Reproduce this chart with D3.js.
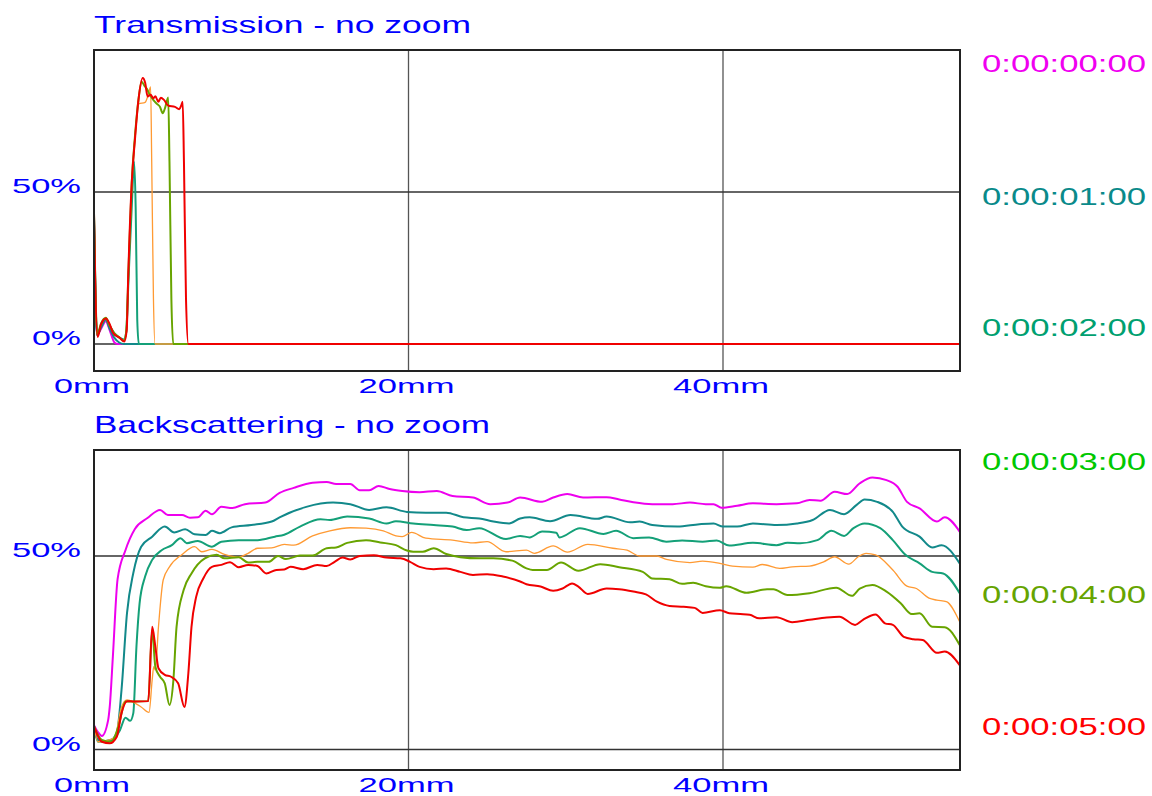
<!DOCTYPE html>
<html>
<head>
<meta charset="utf-8">
<script src="https://cdn.jsdelivr.net/npm/d3@7"></script>
<style>
  html, body { margin: 0; padding: 0; background: #fff; }
  svg { display: block; }
  text { font-family: "Liberation Sans", Arial, sans-serif; }
</style>
</head>
<body>
<svg id="chart" width="1152" height="796"></svg>
<script>
// ---- data -------------------------------------------------------------
const seriesNames = ["0:00:00:00", "0:00:01:00", "0:00:02:00", "0:00:03:00", "0:00:04:00", "0:00:05:00"];
const lineColors   = ["#ee00ee", "#12898a", "#14a078", "#ff9a33", "#68a400", "#f00000"];
const legendColors = ["#f000f0", "#0a8a8a", "#00a070", "#00c800", "#66a400", "#ff0000"];

const xTicks = [0, 20, 40];
const xTickLabels = ["0mm", "20mm", "40mm"];
const yTicks = [0, 50];
const yTickLabels = ["0%", "50%"];
const xMax = 55.05;

// Transmission (%), position in mm
const trMagenta = [[0,40],[0.1,12],[0.2,3],[0.45,5],[0.75,7.5],[1.0,4.5],[1.3,0.5],[1.5,0],[55.05,0]];
const trTeal = [[0,41],[0.1,12],[0.2,3],[0.45,5.5],[0.75,8],[1.0,5],[1.3,2],[1.6,0.5],[1.9,0],[55.05,0]];
const trGreenTeal = [[0,42],[0.1,14],[0.2,3],[0.45,6],[0.75,8.3],[1.0,6],[1.3,3.5],[1.6,2.2],[1.9,1.5],[2.05,4],[2.2,22],[2.4,45],[2.55,60],[2.65,45],[2.75,8],[2.85,0],[55.05,0]];
const trOrange = [[0,43],[0.1,15],[0.2,3],[0.45,6.5],[0.75,8.5],[1.0,6],[1.3,3.5],[1.6,2.2],[1.9,1.2],[2.05,4],[2.2,25],[2.4,52],[2.6,68],[2.85,79],[3.25,79.5],[3.45,82],[3.6,84.6],[3.67,60],[3.78,15],[3.88,0],[55.05,0]];
const trOlive = [[0,43],[0.1,16],[0.2,3],[0.45,6.8],[0.75,8.6],[1.0,6],[1.3,3.5],[1.6,2.2],[1.9,1],[2.05,4],[2.2,25],[2.4,53],[2.6,68],[2.82,80],[3.03,86.3],[3.2,85],[3.35,84],[3.55,82],[3.77,80.3],[4.0,79],[4.2,78],[4.37,75.9],[4.51,77.5],[4.72,81.1],[4.8,60],[4.92,15],[5.04,0],[55.05,0]];
const trRed = [[0,43],[0.08,20],[0.23,2.3],[0.45,6.5],[0.76,8.4],[1.0,6.5],[1.23,3.5],[1.65,2],[1.93,0.8],[2.08,4.6],[2.18,23],[2.4,53],[2.6,67],[2.82,80],[3.1,87.5],[3.25,86],[3.41,81.4],[3.6,82],[3.77,80.8],[3.9,81.5],[4.09,79.7],[4.25,81],[4.45,80.3],[4.72,78.4],[5.15,78],[5.42,77.2],[5.55,78.5],[5.64,79.7],[5.72,60],[5.85,15],[6.0,0],[55.05,0]];

// Backscattering (%), position in mm
const bsMagenta = [[0,6.3],[0.25,4.5],[0.5,3.5],[0.9,7.6],[1.0,11],[1.2,24],[1.5,44],[2.0,51.5],[2.6,57],[3.4,59.8],[4.2,61.9],[4.7,60.6],[5.6,60.6],[6.1,59.9],[6.6,60],[7.1,61.7],[7.5,60.8],[8.1,62.7],[8.8,62.4],[9.6,63.4],[10.9,63.8],[11.8,66.3],[12.7,67.6],[13.9,68.9],[14.8,69.1],[15.4,68.6],[16.3,68.6],[16.9,67],[17.5,67],[18.1,68.1],[18.8,67.3],[19.6,66.8],[20.7,66.5],[21.8,66.8],[22.8,65.5],[24.1,65.1],[25.2,63.4],[26.3,63.8],[27.1,65.1],[28.5,64],[29.2,65.1],[30.1,66],[31.1,65.1],[32.6,65.2],[33.4,64.6],[34.3,63.9],[35.5,63.4],[36.8,63.4],[37.9,63.8],[38.9,63.4],[39.4,63.4],[39.9,62.5],[40.9,63],[41.9,63.6],[43.4,63.4],[44.7,63.6],[45.5,64.5],[46.2,64.3],[47.1,66.6],[47.9,66],[48.7,68.8],[49.5,70.3],[50.4,69.6],[51.1,67.9],[51.7,64],[52.5,62.3],[53.6,58.9],[54.1,60],[55.05,56.3]];
const bsTeal = [[0,6.1],[0.25,2.5],[0.9,2],[1.45,4.3],[1.75,15.4],[2.1,35.3],[2.5,45.6],[3.0,52.4],[3.7,55],[4.5,57.6],[5.1,56.1],[5.8,56.9],[6.4,55.6],[7.1,55.4],[7.5,56.5],[8.0,55.9],[8.75,57.4],[10.0,58],[11.3,58.9],[11.8,60],[13.5,62.7],[15.2,63.8],[16.3,63.4],[17.5,61.9],[18.6,62.6],[19.9,61.4],[21.1,61.2],[22.4,61.2],[23.5,60],[24.5,59.7],[25.4,58.9],[26.4,58.4],[27.1,59.7],[27.7,60],[29.0,59],[30.3,60.6],[32.0,59.6],[32.6,60.2],[34.1,58.7],[34.7,58.9],[35.5,58],[37.1,57.6],[38.5,58.2],[39.4,58.4],[40.0,57.6],[40.9,57.6],[41.9,58.4],[43.4,58],[44.7,58.4],[45.7,59.3],[46.8,61.9],[47.7,60.8],[48.5,63.2],[49.0,64.6],[49.8,64],[50.8,61.4],[51.4,57.6],[52.5,55],[53.3,52.2],[53.9,52.8],[55.05,48.1]];
const bsGreenTeal = [[0,6],[0.25,2],[1.1,2.5],[1.65,5],[2.0,8.2],[2.3,7.4],[2.5,9.4],[2.7,26.6],[2.9,37.8],[3.25,44.7],[3.7,49],[4.3,51.5],[4.95,52.8],[5.5,54.6],[5.9,53.3],[6.6,53.9],[7.5,52.4],[8.1,53.7],[9.2,54.1],[10.4,54.1],[11.5,55],[12.1,55.5],[13.1,57.6],[14.4,59.5],[15.0,59.3],[16.1,60.2],[17.5,59.7],[18.6,58.4],[19.2,59],[20.3,58.4],[21.6,58],[22.8,57.6],[23.7,56.7],[24.5,57.2],[26.2,54.4],[27.1,55.2],[27.7,54.8],[28.5,56.3],[29.4,56],[29.6,54.8],[30.9,57.2],[32.4,55.7],[33.2,56.5],[34.3,54.6],[35.3,54.8],[36.4,53.7],[37.4,54],[38.7,53.7],[39.6,54],[40.4,52.7],[41.9,53.4],[43.4,52.8],[44.1,53.4],[44.9,53.3],[46.0,54.1],[46.9,56.5],[47.7,55.2],[48.3,57.2],[49.0,58.4],[50.0,57.2],[50.8,54.1],[51.6,50.3],[52.5,48.1],[53.3,45.9],[54.0,45.5],[55.05,40.4]];
const bsOrange = [[0,6],[0.25,2],[1.3,3],[1.75,11],[2.1,12.8],[2.6,12],[3.0,11],[3.5,9.6],[3.7,18],[3.8,21.4],[3.9,20.5],[4.1,31.7],[4.4,43.8],[4.8,47.2],[5.6,50.4],[6.4,52.4],[6.85,51.1],[7.5,51.7],[8.3,50.4],[9.2,49.7],[9.8,50.7],[10.4,52],[11.3,52.1],[12.1,53],[12.7,52.8],[13.9,55.2],[15.0,56.5],[16.3,57.3],[17.3,57.2],[18.4,56.5],[19.2,55.2],[19.6,55],[20.2,56.1],[21.1,54.6],[22.8,54.1],[24.1,53.4],[25.0,53.7],[26.2,51.1],[27.5,51.5],[28.0,50.7],[29.2,52.6],[30.1,51],[31.4,53],[33.0,52],[33.9,51.5],[34.7,50],[35.8,50],[36.4,49.1],[37.9,48.3],[38.7,48.7],[39.8,48.1],[40.6,47.4],[41.9,47.1],[42.5,47.8],[43.6,46.8],[44.4,47.2],[45.5,47.4],[46.4,48.5],[47.1,49.8],[48.0,47.9],[48.6,49.8],[49.1,50.7],[49.7,50.3],[50.8,46.4],[51.7,42.2],[52.3,41.6],[53.1,39.1],[53.6,38.6],[54.2,38.2],[55.05,33]];
const bsOlive = [[0,6],[0.5,2.5],[1.1,2],[1.55,5.9],[2.0,12.4],[2.6,12.4],[3.45,12.5],[3.7,30.9],[3.9,21.4],[4.2,18.8],[4.5,17.1],[4.8,11.5],[5.05,18],[5.25,31.7],[5.7,41.2],[6.2,45.5],[7.05,49.4],[7.8,50.3],[8.3,49.4],[9.2,49.7],[9.8,48.3],[10.4,48.5],[11.1,48.5],[11.7,50],[12.2,49.2],[13.1,50.1],[13.9,50.1],[14.8,52],[15.4,52.2],[16.1,53.4],[17.3,54.1],[18.2,53.5],[19.2,52.8],[19.9,51.4],[20.3,51.1],[20.9,51.1],[21.6,52],[22.4,50.5],[23.3,49.7],[24.5,49.4],[25.4,49.4],[26.6,48.8],[27.5,46.8],[27.9,46.4],[28.8,46.4],[29.7,48.3],[30.8,46.2],[32.2,47.9],[33.4,47.1],[34.9,45.9],[35.5,44.2],[36.6,44],[37.4,42.8],[38.1,43.1],[38.9,42.2],[39.8,41.8],[40.2,42.2],[41.5,40.5],[42.8,41.4],[43.2,41.4],[44.1,39.9],[45.5,40.4],[47.2,41.8],[48.2,39.7],[48.7,41.6],[49.5,42.5],[50.4,40.8],[51.3,37.8],[52.0,35],[52.5,35.2],[53.3,31.7],[54.1,31.6],[55.05,27]];
const bsRed = [[0,6],[0.5,2],[1.0,1.6],[1.45,3.3],[1.75,9.4],[2.1,12.5],[2.6,12.4],[3.45,12.5],[3.7,31.7],[3.9,26.6],[4.1,21],[4.5,19.3],[4.9,18.8],[5.35,17.1],[5.75,11],[6.0,19.7],[6.2,31.7],[6.5,39.5],[6.95,44.2],[7.5,47.2],[8.1,47.7],[8.65,48.4],[9.2,47.1],[9.8,47.7],[10.4,47.4],[10.95,45.5],[11.6,46.4],[12.1,46.5],[12.5,47.2],[13.3,46.6],[14.2,47.7],[14.8,47.4],[15.3,48.5],[15.8,49.6],[16.3,49.1],[16.9,50],[17.8,50.2],[18.6,49.6],[19.5,49.4],[20.1,48.5],[20.7,47.2],[21.6,46.6],[22.4,46.8],[23.3,45.9],[24.1,45.1],[25.0,45.3],[26.0,44.7],[27.1,43.4],[27.5,42.7],[28.4,42.1],[29.2,41],[29.8,41.6],[30.4,42.9],[30.8,42.1],[31.4,40.2],[32.6,41.6],[33.4,41.4],[34.3,40.8],[35.1,40.1],[35.8,38.2],[36.6,37.1],[37.5,36.9],[38.2,36.6],[38.7,35.3],[39.8,36],[40.4,35.2],[41.1,35],[41.7,34.8],[42.3,33.9],[43.4,34.2],[44.4,32.9],[45.5,33.5],[46.6,34.1],[47.4,34.3],[48.4,32.2],[48.9,33.5],[49.7,34.9],[50.3,32.6],[50.8,32.2],[51.5,29.1],[52.1,28.5],[52.7,28.3],[53.6,25],[54.1,25.3],[55.05,21.8]];

const transmission = [trMagenta, trTeal, trGreenTeal, trOrange, trOlive, trRed];
const backscattering = [bsMagenta, bsTeal, bsGreenTeal, bsOrange, bsOlive, bsRed];

// ---- drawing ----------------------------------------------------------
const svg = d3.select("#chart");
const FONT = '"Liberation Sans", Arial, sans-serif';
const blue = "#0000ff";

function panel(opts) {
  const { id, title, titleLen, titleY, top, bottom, y0px, y50px, labelBase, data } = opts;
  const left = 94, right = 960;
  const x = d3.scaleLinear().domain([0, 40]).range([left, 723]);
  const y = d3.scaleLinear().domain([0, 50]).range([y0px, y50px]);
  const g = svg.append("g");

  g.append("text")
    .attr("x", left).attr("y", titleY)
    .attr("fill", blue).attr("font-size", 24).attr("font-family", FONT)
    .attr("textLength", titleLen).attr("lengthAdjust", "spacingAndGlyphs")
    .text(title);

  g.append("clipPath").attr("id", id + "-clip")
    .append("rect").attr("x", left).attr("y", top)
    .attr("width", right - left).attr("height", bottom - top);

  // grid
  g.selectAll(".vgrid").data(xTicks.filter(d => d > 0)).join("line")
    .attr("x1", d => x(d)).attr("x2", d => x(d))
    .attr("y1", top).attr("y2", bottom)
    .attr("stroke", "#555").attr("stroke-width", 1.3);
  g.selectAll(".hgrid").data(yTicks).join("line")
    .attr("x1", left).attr("x2", right)
    .attr("y1", d => y(d)).attr("y2", d => y(d))
    .attr("stroke", "#333").attr("stroke-width", 1.3);

  // curves
  const line = d3.line().x(d => x(d[0])).y(d => y(d[1])).curve(d3.curveMonotoneX);
  const lines = g.append("g").attr("clip-path", `url(#${id}-clip)`);
  data.forEach((s, i) => {
    lines.append("path").datum(s)
      .attr("d", line)
      .attr("fill", "none")
      .attr("stroke", lineColors[i])
      .attr("stroke-width", i === 3 ? 1.3 : 2)
      .attr("stroke-linejoin", "round");
  });

  // frame
  g.append("rect").attr("x", left).attr("y", top)
    .attr("width", right - left).attr("height", bottom - top)
    .attr("fill", "none").attr("stroke", "#222").attr("stroke-width", 2);

  // y tick labels
  const yLen = { "0%": 49, "50%": 69 };
  g.selectAll(".ylab").data(yTicks).join("text")
    .attr("x", 81).attr("y", d => y(d) + 1)
    .attr("text-anchor", "end")
    .attr("fill", blue).attr("font-size", 21).attr("font-family", FONT)
    .attr("textLength", (d, i) => yLen[yTickLabels[i]]).attr("lengthAdjust", "spacingAndGlyphs")
    .text((d, i) => yTickLabels[i]);

  // x tick labels
  const xLen = { "0mm": 76, "20mm": 96, "40mm": 96 };
  g.selectAll(".xlab").data(xTicks).join("text")
    .attr("x", d => x(d) - 2).attr("y", labelBase)
    .attr("text-anchor", "middle")
    .attr("fill", blue).attr("font-size", 21).attr("font-family", FONT)
    .attr("textLength", (d, i) => xLen[xTickLabels[i]]).attr("lengthAdjust", "spacingAndGlyphs")
    .text((d, i) => xTickLabels[i]);
}

panel({ id: "tr", title: "Transmission - no zoom", titleLen: 377, titleY: 33,
        top: 50, bottom: 371, y0px: 344, y50px: 192, labelBase: 393, data: transmission });
panel({ id: "bs", title: "Backscattering - no zoom", titleLen: 396, titleY: 433,
        top: 450, bottom: 770, y0px: 749.5, y50px: 556, labelBase: 792, data: backscattering });

// legend of time stamps
const legendY = [72, 205, 336, 470, 603, 735];
svg.append("g").selectAll("text").data(seriesNames).join("text")
  .attr("x", 982).attr("y", (d, i) => legendY[i])
  .attr("fill", (d, i) => legendColors[i])
  .attr("font-size", 23).attr("font-family", FONT)
  .attr("textLength", 164).attr("lengthAdjust", "spacingAndGlyphs")
  .text(d => d);
</script>
</body>
</html>
